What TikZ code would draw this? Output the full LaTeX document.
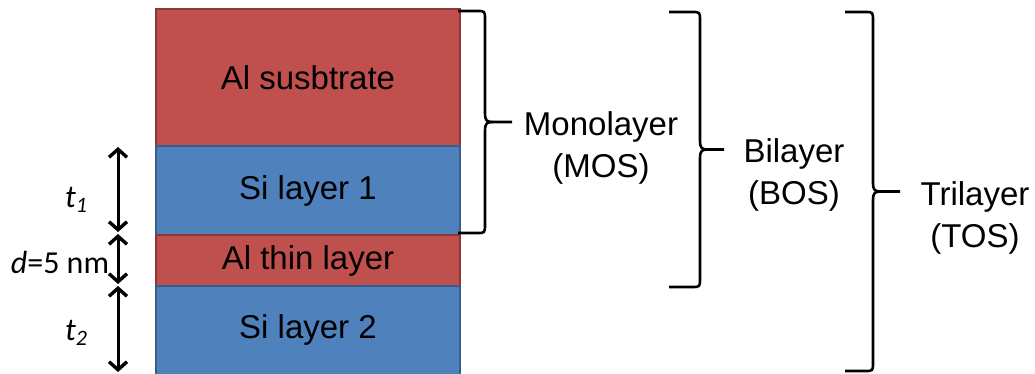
\documentclass[tikz,border=0pt]{standalone}
\usepackage{fontspec}
\setmainfont{Liberation Sans}
\newfontfamily\calfont{Carlito}
\usetikzlibrary{arrows.meta}
\definecolor{alred}{HTML}{C0504D}
\definecolor{alredb}{HTML}{8C3836}
\definecolor{siblue}{HTML}{4F81BD}
\definecolor{sibb}{HTML}{385D8A}
\tikzset{
  layer/.style={draw, line width=2pt, minimum width=304pt, inner sep=0pt, font=\fontsize{33}{40}\selectfont},
  allayer/.style={layer, fill=alred, draw=alredb},
  silayer/.style={layer, fill=siblue, draw=sibb},
  dimarrow/.style={line width=3pt, {Straight Barb[length=8pt,width=18pt,line width=3.4pt]}-{Straight Barb[length=8pt,width=18pt,line width=3.4pt]}, shorten <=1pt, shorten >=1pt},
  bracepath/.style={line width=2.6pt, line join=round},
  lbl/.style={font=\fontsize{33}{42}\selectfont, align=center, inner sep=0pt},
  dim/.style={font=\calfont\fontsize{32}{40}\selectfont, inner sep=0pt}
}
\newcommand{\mysub}[1]{\raisebox{-0.3ex}{\fontsize{22}{22}\selectfont\itshape #1}}
\newcommand{\mybrace}[5]{% x0, ytop, xv, ybot, xtip
  \draw[bracepath] (#1,#2) -- (#3-8,#2) .. controls (#3,#2) .. (#3,#2+9)
    -- (#3,{(#2+#4)/2-9}) .. controls (#3,{(#2+#4)/2-1}) and (#3+2,{(#2+#4)/2}) .. (#3+8,{(#2+#4)/2}) -- (#5,{(#2+#4)/2});
  \draw[bracepath] (#3+8,{(#2+#4)/2}) .. controls (#3+2,{(#2+#4)/2}) and (#3,{(#2+#4)/2+1}) .. (#3,{(#2+#4)/2+9})
    -- (#3,#4-9) .. controls (#3,#4) .. (#3-8,#4) -- (#1,#4);
}
\begin{document}
\begin{tikzpicture}[x=1pt,y=-1pt]
\useasboundingbox (0,0) rectangle (1035,374);
\begin{scope}
\clip (0,0) rectangle (1035,374);
\node[allayer, minimum height=137pt] (sub) at (308,77.5) {Al susbtrate};
\node[silayer, minimum height=89pt] (si1) at (308,190.5) {Si layer 1};
\node[allayer, minimum height=51pt] (alt) at (308,260.5) {Al thin layer};
\node[silayer, minimum height=94pt] (si2) at (308,333) {};
\node[font=\fontsize{33}{40}\selectfont] at (308,330) {Si layer 2};
\end{scope}
% dimension arrows
\coordinate (a0) at (118,146);
\coordinate (a1) at (118,233);
\coordinate (a2) at (118,285);
\coordinate (a3) at (118,373);
\draw[dimarrow] (a0) -- (a1);
\draw[dimarrow] (a1) -- (a2);
\draw[dimarrow] (a2) -- (a3);
\node[dim] (t1) at (76,200) {\textit{t}\mysub{1}};
\node[dim] (d) at (60,262) {\textit{d}=5 nm};
\node[dim] (t2) at (76,333) {\textit{t}\mysub{2}};
% braces
\mybrace{458}{11}{485}{233}{512}
\mybrace{669}{12}{700}{287}{724}
\mybrace{845}{12}{873}{371}{900}
\node[lbl] (mos) at (601,148) {Monolayer\\(MOS)};
\node[lbl] (bos) at (794,175) {Bilayer\\(BOS)};
\node[lbl] (tos) at (975,218) {Trilayer\\(TOS)};
\end{tikzpicture}
\end{document}
